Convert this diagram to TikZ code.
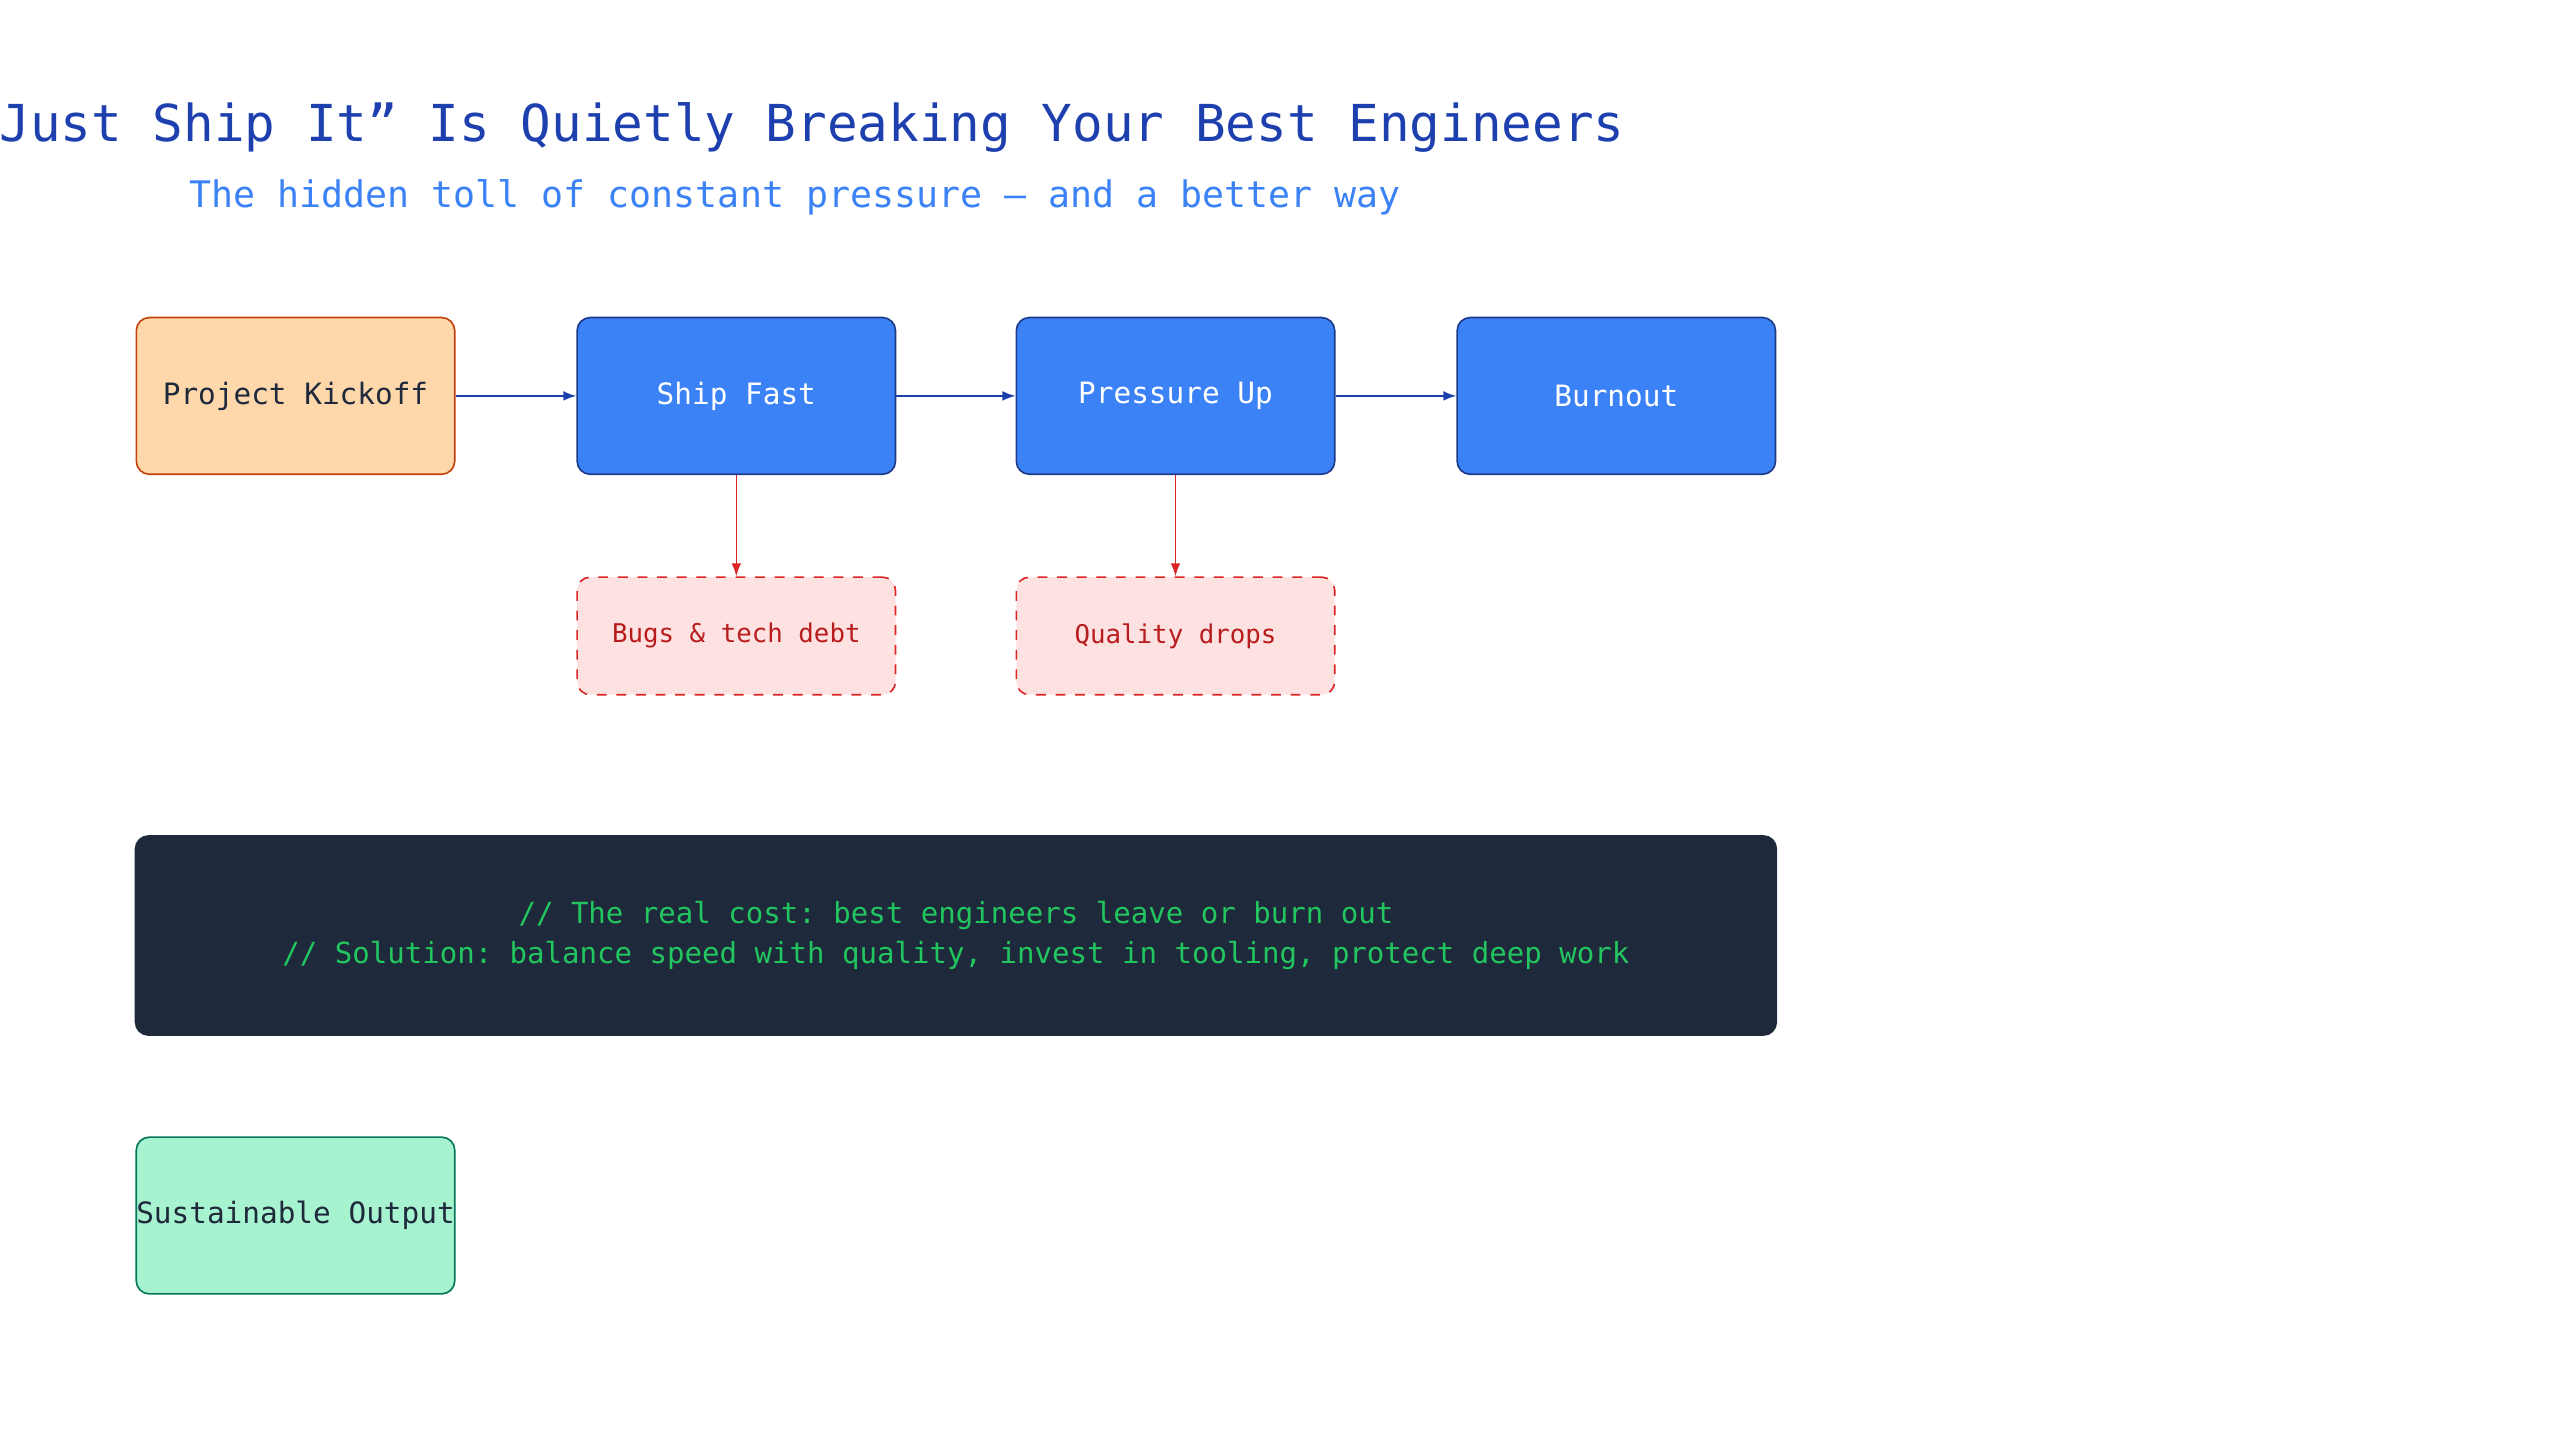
\documentclass[tikz,border=0pt]{standalone}
\usepackage{fontspec}
\setmonofont{DejaVu Sans Mono}
\usetikzlibrary{arrows.meta}
\definecolor{blu}{HTML}{3B82F6}
\definecolor{dblu}{HTML}{1E3A8A}
\definecolor{tblu}{HTML}{1E40AF}
\definecolor{orf}{HTML}{FED7AA}
\definecolor{ord}{HTML}{C2410C}
\definecolor{rdf}{HTML}{FEE2E2}
\definecolor{rdd}{HTML}{DC2626}
\definecolor{rdt}{HTML}{B91C1C}
\definecolor{dark}{HTML}{1E293B}
\definecolor{grn}{HTML}{22C55E}
\definecolor{gnf}{HTML}{A7F3D0}
\definecolor{gnd}{HTML}{047857}
\begin{document}
\begin{tikzpicture}[x=0.5pt,y=-0.5pt,font=\ttfamily,
 box/.style={draw,rounded corners=4pt,minimum width=97.5pt,minimum height=48pt,inner sep=0pt,line width=0.5pt},
 main/.style={box,fill=blu,draw=dblu,text=white,font=\ttfamily\fontsize{9}{11}\selectfont},
 side/.style={box,dashed,fill=rdf,draw=rdd,text=rdt,minimum height=36pt,font=\ttfamily\fontsize{7.9}{10}\selectfont},
 arr/.style={-{Latex[length=4pt,width=3pt]},draw=tblu,line width=0.5pt},
 rarr/.style={-{Latex[length=4pt,width=3pt]},draw=rdd,line width=0.5pt}]
\path[use as bounding box,fill=white] (0,0) rectangle (1568,882);
\node[text=tblu,font=\ttfamily\fontsize{15.6}{18}\selectfont] (title) at (488,78) {“Just Ship It” Is Quietly Breaking Your Best Engineers};
\node[text=blu,font=\ttfamily\fontsize{11.2}{14}\selectfont] (sub) at (487,121) {The hidden toll of constant pressure — and a better way};
\node[box,fill=orf,draw=ord,text=dark,font=\ttfamily\fontsize{9}{11}\selectfont] (k) at (181,242.5) {Project Kickoff};
\node[main] (s) at (451,242.5) {Ship Fast};
\node[main] (p) at (720,242.5) {Pressure Up};
\node[main] (b) at (990,242.5) {Burnout};
\node[side] (bug) at (451,389.5) {Bugs \& tech debt};
\node[side] (q) at (720,389.5) {Quality drops};
\draw[arr] (k) -- (s);
\draw[arr] (s) -- (p);
\draw[arr] (p) -- (b);
\draw[rarr] (s) -- (bug);
\draw[rarr] (p) -- (q);
\node[box,fill=dark,draw=dark,minimum width=502.5pt,minimum height=61pt,text=grn,align=center,font=\ttfamily\fontsize{8.9}{12.2}\selectfont] (code) at (585.5,573) {// The real cost: best engineers leave or burn out\\// Solution: balance speed with quality, invest in tooling, protect deep work};
\node[box,fill=gnf,draw=gnd,text=dark,font=\ttfamily\fontsize{9}{11}\selectfont] (so) at (181,744.5) {Sustainable Output};
\end{tikzpicture}
\end{document}
